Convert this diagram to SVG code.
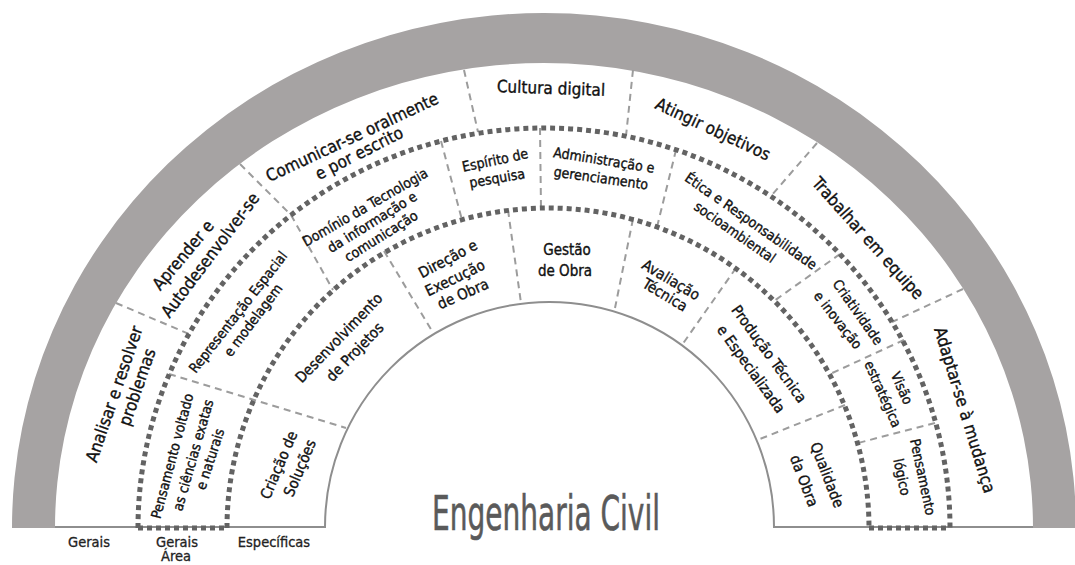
<svg xmlns="http://www.w3.org/2000/svg" width="1075" height="565" viewBox="0 0 1075 565">
<style>
text{font-family:"Liberation Sans Narrow","DejaVu Sans Condensed","Liberation Sans",sans-serif;fill:#111;text-anchor:middle;dominant-baseline:central}
.o,.m,.i{stroke:#111;stroke-width:0.35}
.o{font-size:17px}
.m{font-size:14px}
.i{font-size:15px}
.lab{font-family:"DejaVu Sans Condensed","Liberation Sans",sans-serif;font-size:14.5px;dominant-baseline:auto;fill:#222;stroke:#222;stroke-width:0.3}
.title{font-size:48px;fill:#5a5a5a;dominant-baseline:auto;stroke:#5a5a5a;stroke-width:0.6}
.thin{fill:none;stroke:#9c9c9c;stroke-width:2;stroke-dasharray:7 5}
.bold{fill:none;stroke:#636363;stroke-width:5;stroke-dasharray:5 4}
.line{fill:none;stroke:#8e8e8e;stroke-width:2}
</style>
<rect width="1075" height="565" fill="#fff"/>
<g id="band">
<path d="M12,528 A532,515 0 0 1 1076,528 L1033,528 A489,465 0 0 0 55,528 Z" fill="#a6a3a3"/>
</g>
<g id="base">
<path class="line" d="M55,527 H325 A224.5,225 0 0 1 774,527 H1033"/>
</g>
<g id="connectors">
<path class="thin" d="M116,303 L189,334"/>
<path class="thin" d="M240,164 L291,215"/>
<path class="thin" d="M464,70 L478,132"/>
<path class="thin" d="M633,70 L626,136"/>
<path class="thin" d="M817,143 L771,196"/>
<path class="thin" d="M963,289 L892,322"/>
<path class="thin" d="M169,374 L346,428"/>
<path class="thin" d="M291,215 L333,290"/>
<path class="thin" d="M441,141 L462,220"/>
<path class="thin" d="M540,128 L541,208"/>
<path class="thin" d="M676,150 L657,227"/>
<path class="thin" d="M840,254 L774,301"/>
<path class="thin" d="M904,340 L830,374"/>
<path class="thin" d="M935,423 L858,443"/>
<path class="thin" d="M384,251 L432,331"/>
<path class="thin" d="M508,210 L521,303"/>
<path class="thin" d="M633,219 L615,308"/>
<path class="thin" d="M736,268 L682,345"/>
<path class="thin" d="M845,405 L760,439"/>
<path class="bold" d="M138,528 A406,400 0 0 1 950,528"/>
<path class="bold" d="M227,528 A321,320 0 0 1 869,528"/>
<path class="bold" d="M138,528 H227 M869,528 H950"/>
</g>
<g id="analisar"><text class="o" transform="translate(114,394) rotate(-71)">Analisar e resolver</text><text class="o" transform="translate(137,387) rotate(-71)">problemas</text></g>
<g id="aprender"><text class="o" transform="translate(183,255) rotate(-50)">Aprender e</text><text class="o" transform="translate(210,255) rotate(-53)">Autodesenvolver-se</text></g>
<g id="comunicar"><text class="o" transform="translate(352,137) rotate(-25)">Comunicar-se oralmente</text><text class="o" transform="translate(359,153) rotate(-27)">e por escrito</text></g>
<g id="cultura"><text class="o" transform="translate(551,88) rotate(2)">Cultura digital</text></g>
<g id="atingir"><text class="o" transform="translate(713,129) rotate(25)">Atingir objetivos</text></g>
<g id="trabalhar"><text class="o" transform="translate(868,238) rotate(48)">Trabalhar em equipe</text></g>
<g id="adaptar"><text class="o" transform="translate(965,410) rotate(73)">Adaptar-se à mudança</text></g>
<g id="pensamento-voltado"><text class="m" transform="translate(172,456) rotate(-75)">Pensamento voltado</text><text class="m" transform="translate(193,455) rotate(-74)">as ciências exatas</text><text class="m" transform="translate(210,459) rotate(-72)">e naturais</text></g>
<g id="representacao"><text class="m" transform="translate(238,312) rotate(-52)">Representação Espacial</text><text class="m" transform="translate(253,320) rotate(-53)">e modelagem</text></g>
<g id="dominio"><text class="m" transform="translate(365,207) rotate(-30)">Domínio da Tecnologia</text><text class="m" transform="translate(372,222) rotate(-32)">da informação e</text><text class="m" transform="translate(381,236) rotate(-32)">comunicação</text></g>
<g id="espirito"><text class="m" transform="translate(495,160) rotate(-12)">Espírito de</text><text class="m" transform="translate(497,178) rotate(-10)">pesquisa</text></g>
<g id="administracao"><text class="m" transform="translate(604,160) rotate(9)">Administração e</text><text class="m" transform="translate(601,178) rotate(8)">gerenciamento</text></g>
<g id="etica"><text class="m" transform="translate(751,221) rotate(35)">Ética e Responsabilidade</text><text class="m" transform="translate(735,232) rotate(35)">socioambiental</text></g>
<g id="criatividade"><text class="m" transform="translate(858,312) rotate(55)">Criatividade</text><text class="m" transform="translate(838,320) rotate(52)">e inovação</text></g>
<g id="visao"><text class="m" transform="translate(902,388) rotate(66)">Visão</text><text class="m" transform="translate(883,394) rotate(66)">estratégica</text></g>
<g id="pensamento-logico"><text class="m" transform="translate(923,477) rotate(78)">Pensamento</text><text class="m" transform="translate(902,477) rotate(78)">lógico</text></g>
<g id="criacao"><text class="i" transform="translate(279,465) rotate(-67)">Criação de</text><text class="i" transform="translate(300,468) rotate(-67)">Soluções</text></g>
<g id="desenvolvimento"><text class="i" transform="translate(339,338) rotate(-46)">Desenvolvimento</text><text class="i" transform="translate(355,352) rotate(-46)">de Projetos</text></g>
<g id="direcao"><text class="i" transform="translate(448,259) rotate(-28)">Direção e</text><text class="i" transform="translate(455,278) rotate(-26)">Execução</text><text class="i" transform="translate(463,294) rotate(-24)">de Obra</text></g>
<g id="gestao"><text class="i" transform="translate(567,250)">Gestão</text><text class="i" transform="translate(565,271)">de Obra</text></g>
<g id="avaliacao"><text class="i" transform="translate(671,280) rotate(31)">Avaliação</text><text class="i" transform="translate(665,295) rotate(31)">Técnica</text></g>
<g id="producao"><text class="i" transform="translate(769,354) rotate(54)">Produção Técnica</text><text class="i" transform="translate(751,369) rotate(54)">e Especializada</text></g>
<g id="qualidade"><text class="i" transform="translate(827,475) rotate(69)">Qualidade</text><text class="i" transform="translate(804,481) rotate(69)">da Obra</text></g>
<g id="title"><text class="title" x="546" y="530" textLength="228" lengthAdjust="spacingAndGlyphs">Engenharia Civil</text></g>
<g id="labels">
<text class="lab" x="89" y="547">Gerais</text>
<text class="lab" x="177" y="547">Gerais</text>
<text class="lab" x="176" y="561">Área</text>
<text class="lab" x="274" y="547">Específicas</text>
</g>
</svg>
